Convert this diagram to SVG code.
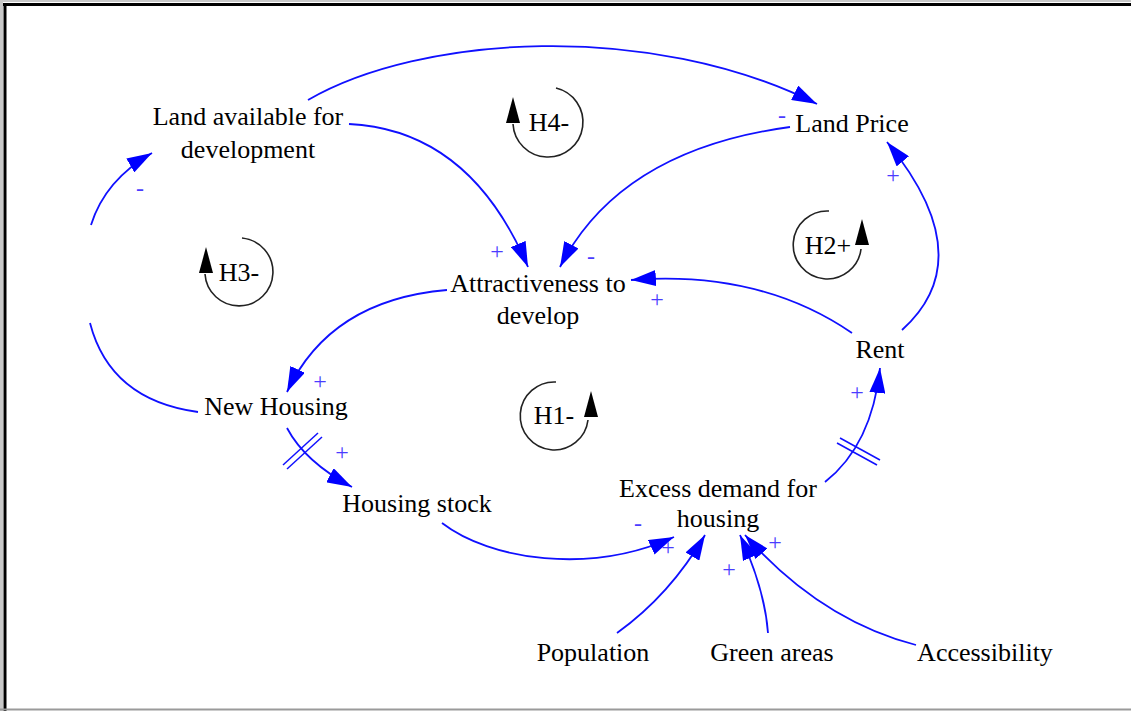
<svg xmlns="http://www.w3.org/2000/svg" width="1131" height="711" viewBox="0 0 1131 711">
  <style>
    .lbl { font-family: "Liberation Serif", "Times New Roman", serif; font-size: 26px; fill: #000; text-anchor: middle; }
    .sign { font-family: "Liberation Serif", "Times New Roman", serif; font-size: 24px; fill: #4a3cff; text-anchor: middle; }
    .link { fill: none; stroke: #1010ff; stroke-width: 1.8; marker-end: url(#head); }
    .plain { fill: none; stroke: #1010ff; stroke-width: 1.8; }
    .hash { stroke: #1010ff; stroke-width: 1.5; }
    .loop { fill: none; stroke: #222; stroke-width: 1.6; }
    .loophead { fill: #000; }
  </style>
  <defs>
    <marker id="head" markerUnits="userSpaceOnUse" markerWidth="27" markerHeight="16" refX="25" refY="8" orient="auto">
      <path d="M0,0 L25,8 L0,16 z" fill="#0000ff"/>
    </marker>
  </defs>

  <!-- page frame -->
  <rect x="0" y="0" width="1131" height="711" fill="#fff"/>
  <line x1="0" y1="1" x2="1131" y2="1" stroke="#c8c8c8" stroke-width="2"/>
  <line x1="1.5" y1="0" x2="1.5" y2="711" stroke="#c8c8c8" stroke-width="3"/>
  <line x1="3" y1="4.5" x2="1131" y2="4.5" stroke="#000" stroke-width="3"/>
  <line x1="5" y1="3" x2="5" y2="711" stroke="#000" stroke-width="3"/>
  <line x1="0" y1="709.5" x2="1131" y2="709.5" stroke="#9a9a9a" stroke-width="2"/>

  <!-- connectors -->
  <g id="connectors">
    <path class="link" d="M 308 100 C 420 35 650 20 817 104"/>
    <path class="link" d="M 349 124 Q 470 130 528 267"/>
    <path class="link" d="M 790 127 Q 620 150 560 267"/>
    <path class="link" d="M 852 333 Q 760 270 631 280"/>
    <path class="link" d="M 447 290 Q 330 300 287 392"/>
    <path class="plain" d="M 198 412 Q 110 400 90 323"/>
    <path class="link" d="M 91 225 Q 105 180 152 153"/>
    <path class="link" d="M 287 428 Q 305 462 352 487"/>
    <line class="hash" x1="283" y1="465" x2="318" y2="433"/>
    <line class="hash" x1="287" y1="469" x2="322" y2="437"/>
    <path class="link" d="M 442 523 C 490 560 590 575 674 537"/>
    <path class="link" d="M 825 482 Q 872 445 880 368"/>
    <line class="hash" x1="840" y1="438" x2="880" y2="460"/>
    <line class="hash" x1="837" y1="443" x2="877" y2="465"/>
    <path class="link" d="M 902 330 Q 982 258 887 142"/>
    <path class="link" d="M 617 633 Q 670 595 705 535"/>
    <path class="link" d="M 768 633 Q 765 590 740 535"/>
    <path class="link" d="M 916 645 Q 820 620 745 535"/>
  </g>

  <!-- polarity signs -->
  <g id="polarities">
    <text class="sign" x="782" y="123">-</text>
    <text class="sign" x="497" y="259">+</text>
    <text class="sign" x="591" y="264">-</text>
    <text class="sign" x="657" y="307">+</text>
    <text class="sign" x="320" y="389">+</text>
    <text class="sign" x="140" y="196">-</text>
    <text class="sign" x="342" y="460">+</text>
    <text class="sign" x="638" y="531">-</text>
    <text class="sign" x="668" y="555">+</text>
    <text class="sign" x="857" y="400">+</text>
    <text class="sign" x="893" y="183">+</text>
    <text class="sign" x="729" y="577">+</text>
    <text class="sign" x="775" y="550">+</text>
  </g>

  <!-- loop markers -->
  <g id="loop-H4">
    <path class="loop" d="M 556 88 A 35 35 0 1 1 513 124"/>
    <polygon class="loophead" points="513,97 506,123 520,123"/>
    <text class="lbl" x="549" y="131">H4-</text>
  </g>
  <g id="loop-H3">
    <path class="loop" d="M 242 238 A 34 34 0 1 1 205 274"/>
    <polygon class="loophead" points="206,247 199,273 213,273"/>
    <text class="lbl" x="239" y="281">H3-</text>
  </g>
  <g id="loop-H2">
    <path class="loop" d="M 829 211 A 34 34 0 1 0 861 249"/>
    <polygon class="loophead" points="862,219 855,245 869,245"/>
    <text class="lbl" x="828" y="254">H2+</text>
  </g>
  <g id="loop-H1">
    <path class="loop" d="M 556 382 A 34 34 0 1 0 588 420"/>
    <polygon class="loophead" points="591,391 584,417 598,417"/>
    <text class="lbl" x="554" y="424">H1-</text>
  </g>

  <!-- variables -->
  <g id="land-available">
    <text class="lbl" x="248" y="125">Land available for</text>
    <text class="lbl" x="248" y="158">development</text>
  </g>
  <g id="land-price">
    <text class="lbl" x="852" y="132">Land Price</text>
  </g>
  <g id="attractiveness">
    <text class="lbl" x="538" y="292">Attractiveness to</text>
    <text class="lbl" x="538" y="324">develop</text>
  </g>
  <g id="new-housing">
    <text class="lbl" x="276" y="415">New Housing</text>
  </g>
  <g id="housing-stock">
    <text class="lbl" x="417" y="512">Housing stock</text>
  </g>
  <g id="excess-demand">
    <text class="lbl" x="718" y="497">Excess demand for</text>
    <text class="lbl" x="718" y="527">housing</text>
  </g>
  <g id="rent">
    <text class="lbl" x="880" y="358">Rent</text>
  </g>
  <g id="population">
    <text class="lbl" x="593" y="661">Population</text>
  </g>
  <g id="green-areas">
    <text class="lbl" x="772" y="661">Green areas</text>
  </g>
  <g id="accessibility">
    <text class="lbl" x="985" y="661">Accessibility</text>
  </g>
</svg>
